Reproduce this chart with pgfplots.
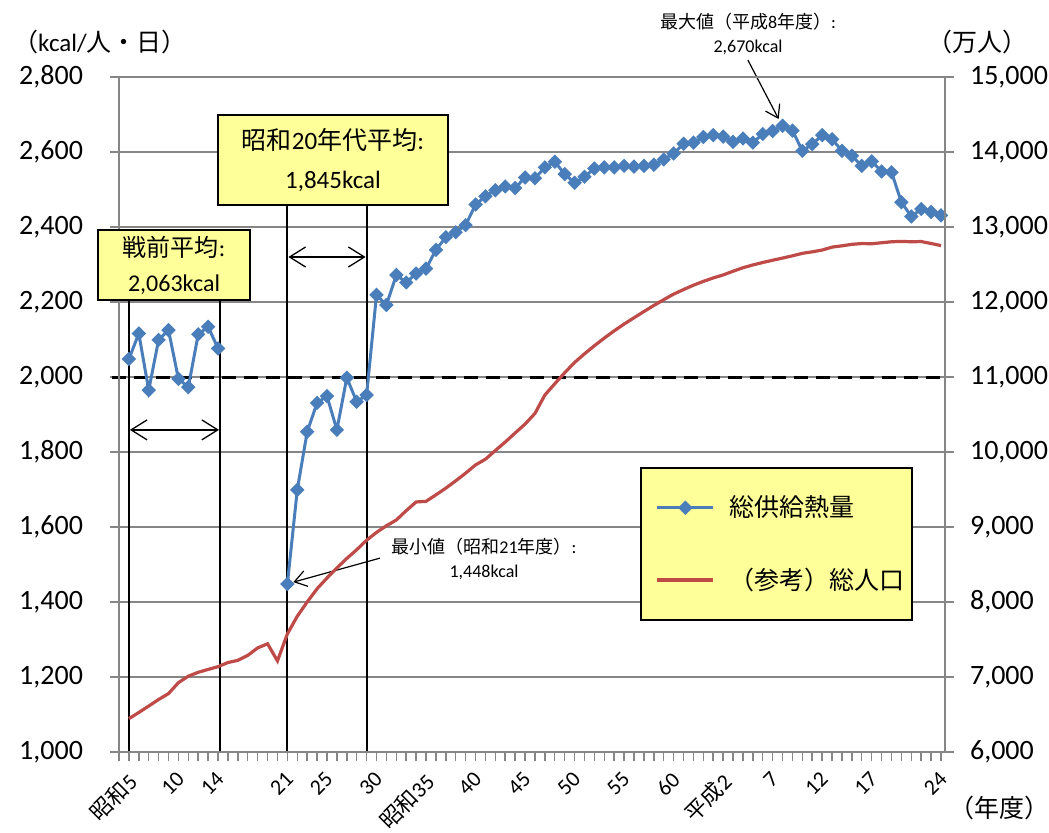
\documentclass[border=0pt]{standalone}
\usepackage{pgfplots}
\pgfplotsset{compat=1.18}
\usepackage{pgfplotstable}
\usepackage{fontspec}
\setmainfont{Carlito}
\newfontfamily\jp{Noto Sans CJK JP}
\usetikzlibrary{arrows.meta}

\definecolor{blueser}{RGB}{74,126,187}
\definecolor{redser}{RGB}{190,75,72}
\definecolor{boxyellow}{RGB}{255,255,153}
\definecolor{gridgray}{RGB}{134,134,134}

% kcal per person per day (gap = no data 1940-45)
\pgfplotstableread{
year kcal
1930 2048
1931 2116
1932 1965
1933 2099
1934 2125
1935 1995
1936 1973
1937 2114
1938 2134
1939 2076
1940 nan
1946 1448
1947 1699
1948 1854
1949 1931
1950 1949
1951 1859
1952 1998
1953 1934
1954 1952
1955 2219
1956 2192
1957 2272
1958 2252
1959 2276
1960 2289
1961 2339
1962 2373
1963 2386
1964 2405
1965 2460
1966 2482
1967 2498
1968 2508
1969 2504
1970 2532
1971 2530
1972 2559
1973 2574
1974 2541
1975 2518
1976 2534
1977 2556
1978 2559
1979 2559
1980 2563
1981 2561
1982 2563
1983 2566
1984 2580
1985 2596
1986 2622
1987 2625
1988 2640
1989 2645
1990 2641
1991 2627
1992 2636
1993 2625
1994 2648
1995 2656
1996 2670
1997 2657
1998 2603
1999 2621
2000 2645
2001 2634
2002 2603
2003 2590
2004 2563
2005 2575
2006 2548
2007 2546
2008 2466
2009 2428
2010 2448
2011 2440
2012 2431
}\kcaltable

% population, 10 thousand persons
\pgfplotstableread{
year pop
1930 6445
1931 6527
1932 6613
1933 6700
1934 6779
1935 6925
1936 7011
1937 7063
1938 7101
1939 7138
1940 7193
1941 7222
1942 7288
1943 7388
1944 7443
1945 7215
1946 7575
1947 7810
1948 8000
1949 8177
1950 8320
1951 8454
1952 8581
1953 8697
1954 8824
1955 8928
1956 9017
1957 9093
1958 9218
1959 9334
1960 9342
1961 9429
1962 9518
1963 9616
1964 9718
1965 9828
1966 9904
1967 10020
1968 10133
1969 10254
1970 10372
1971 10515
1972 10760
1973 10910
1974 11057
1975 11194
1976 11309
1977 11417
1978 11519
1979 11616
1980 11706
1981 11790
1982 11873
1983 11954
1984 12031
1985 12105
1986 12166
1987 12224
1988 12275
1989 12321
1990 12361
1991 12410
1992 12457
1993 12494
1994 12527
1995 12557
1996 12586
1997 12616
1998 12649
1999 12669
2000 12693
2001 12732
2002 12749
2003 12769
2004 12779
2005 12777
2006 12790
2007 12803
2008 12808
2009 12803
2010 12806
2011 12780
2012 12752
}\poptable

\pgfplotsset{
  base/.style={
    scale only axis, width=413pt, height=337.5pt,
    at={(59.5pt,40pt)}, anchor=south west,
    xmin=1929, xmax=2012.4,
    axis line style={gridgray, line width=0.75pt},
    tick style={gridgray, line width=0.75pt},
    tick align=outside, major tick length=4.5pt, minor tick length=4.5pt,
    scaled y ticks=false,
    /pgf/number format/assume math mode=true,
    /pgf/number format/1000 sep={,},
    ticklabel style={font=\fontsize{14}{16}\selectfont},
  },
  kcalstyle/.style={blueser, line width=1.5pt, mark=square*, mark size=1.8pt,
    mark options={rotate=45, solid}},
}

\begin{document}
\begin{tikzpicture}
\useasboundingbox (0,0) rectangle (524.5pt,416pt);

\begin{axis}[base,
  ymin=1000, ymax=2800, ytick={1000,1200,...,2800},
  ytick pos=left, xtick pos=bottom,
  ymajorgrids, grid style={gridgray, line width=0.75pt},
  xtick={1930,1935,1939,1946,1950,1955,1960,1965,1970,1975,1980,1985,1990,1995,2000,2005,2012},
  xticklabels={{\jp 昭和}5,10,14,21,25,30,{\jp 昭和}35,40,45,50,55,60,{\jp 平成}2,7,12,17,24},
  minor xtick={1929,...,2012},
  xticklabel style={yshift=-3.3pt, xshift=-1.5pt, rotate=45, anchor=north east,
    inner sep=1pt, font=\fontsize{11}{13}\selectfont},
  yticklabel style={xshift=-10pt},
  clip=false, unbounded coords=jump,
]
\draw[line width=1.5pt, dash pattern=on 7pt off 4pt] (axis cs:1928.3,2000) -- (axis cs:2012.4,2000);
% period lines and arrows
\draw[line width=1pt] (axis cs:1930,1000) -- (axis cs:1930,2205);
\draw[line width=1pt] (axis cs:1939.2,1000) -- (axis cs:1939.2,2205);
\draw[line width=1pt] (axis cs:1946,1000) -- (axis cs:1946,2459);
\draw[line width=1pt] (axis cs:1954,1000) -- (axis cs:1954,2459);
\draw[line width=0.65pt, {Straight Barb[length=8pt,width=10pt]}-{Straight Barb[length=8pt,width=10pt]}]
  (axis cs:1930.1,1859) -- (axis cs:1939.1,1859);
\draw[line width=0.65pt, {Straight Barb[length=8pt,width=10pt]}-{Straight Barb[length=8pt,width=10pt]}]
  (axis cs:1946.1,2320) -- (axis cs:1953.9,2320);
\addplot[kcalstyle] table[x=year,y=kcal]{\kcaltable};
\draw[line width=0.6pt, -{Straight Barb[length=6pt,width=8pt]}] (axis cs:1992.5,2845) -- (axis cs:1995.6,2688);
\draw[line width=0.6pt, -{Straight Barb[length=6pt,width=8pt]}] (axis cs:1955.35,1517) -- (axis cs:1946.6,1453);
\end{axis}

\begin{axis}[base,
  ymin=6000, ymax=15000, ytick={6000,7000,...,15000},
  ytick pos=right, xtick=\empty,
  yticklabel style={xshift=4.5pt},
  legend style={at={(0.6308,0.4222)}, anchor=north west, fill=boxyellow, draw=black,
    line width=0.75pt, inner xsep=2pt, inner ysep=12pt, row sep=20pt,
    font=\jp\fontsize{12.5}{15}\selectfont,
    /tikz/every odd column/.append style={column sep=5pt}},
  legend cell align=left,
  legend image code/.code={\path (0pt,0pt); \draw[mark repeat=2,mark phase=2,#1] plot coordinates {(5.5pt,0pt) (19.5pt,0pt) (33.5pt,0pt)};},
]
\addlegendimage{kcalstyle}
\addplot[redser, line width=1.6pt, no marks] table[x=year,y=pop]{\poptable};
\legend{総供給熱量,（参考）総人口}
\end{axis}

\begin{scope}[x=0.5pt, y=-0.5pt, shift={(0pt,416pt)}]
\node[font=\fontsize{12.5}{14}\selectfont] at (100,42) {{\jp （}kcal/{\jp 人・日）}};
\node[font=\jp\fontsize{12.5}{14}\selectfont] at (977,42) {（万人）};
\node[font=\jp\fontsize{12.5}{14}\selectfont] at (999,808) {（年度）};
\node[draw=black, line width=0.75pt, fill=boxyellow, minimum width=76pt, minimum height=35pt,
  inner sep=0pt, align=center, font=\fontsize{12}{17.5}\selectfont] at (174,265)
  {{\jp 戦前平均}:\\2,063kcal};
\node[draw=black, line width=0.75pt, fill=boxyellow, minimum width=115pt, minimum height=45pt,
  inner sep=0pt, align=center, font=\fontsize{12.5}{19.5}\selectfont] at (333,160)
  {{\jp 昭和}20{\jp 年代平均}:\\1,845kcal};
\node[align=center, font=\fontsize{9}{12}\selectfont] at (748,34)
  {{\jp 最大値（平成}8{\jp 年度）}:\\2,670kcal};
\node[align=center, font=\fontsize{9}{12}\selectfont] at (484,559)
  {{\jp 最小値（昭和}21{\jp 年度）}:\\1,448kcal};
\end{scope}
\end{tikzpicture}
\end{document}
